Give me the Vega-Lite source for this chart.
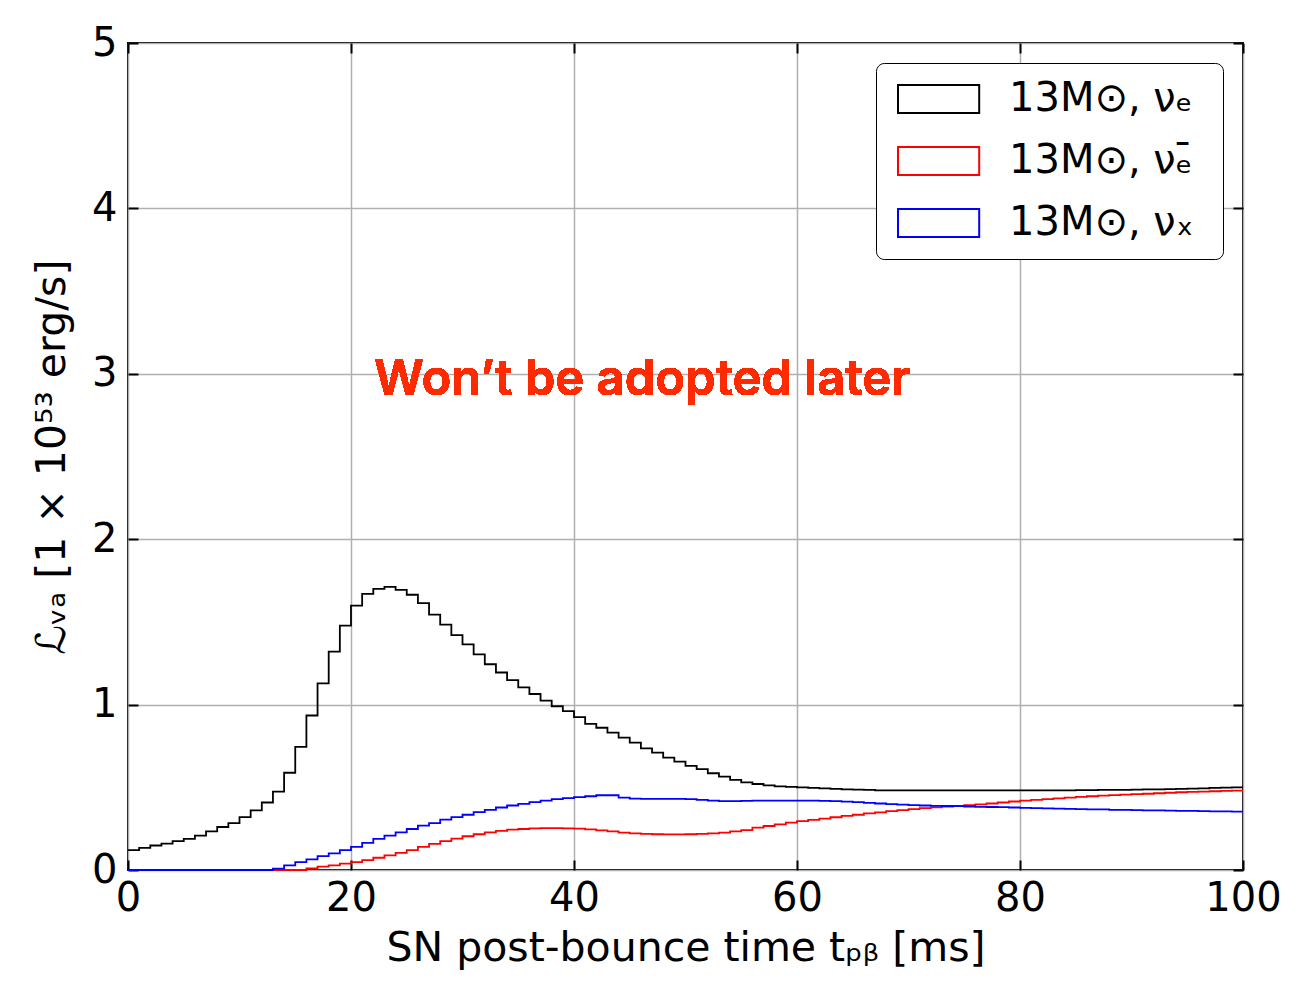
{
  "$schema": "https://vega.github.io/schema/vega-lite/v6.json",
  "autosize": {"type": "none"},
  "width": 1115,
  "height": 827,
  "padding": {"left": 128, "top": 43, "right": 60, "bottom": 124},
  "background": "white",
  "config": {
    "view": {"stroke": "black", "strokeWidth": 2},
    "axis": {
      "domain": false,
      "grid": true,
      "gridColor": "#b0b0b0",
      "gridWidth": 1.5,
      "ticks": true,
      "tickColor": "black",
      "tickWidth": 2,
      "tickSize": -10,
      "labelFont": "DejaVu Sans",
      "labelFontSize": 40,
      "labelColor": "black",
      "labelFlush": false,
      "labelOverlap": false,
      "titleFont": "DejaVu Sans",
      "titleFontSize": 41,
      "titleFontWeight": "normal",
      "titleColor": "black"
    },
    "legend": {
      "orient": "top-right",
      "offset": 20,
      "strokeColor": "black",
      "fillColor": "white",
      "cornerRadius": 8,
      "padding": 16,
      "symbolType": "M-1,-1H4.8V1H-1Z",
      "symbolSize": 784,
      "symbolStrokeWidth": 2,
      "symbolFillColor": "transparent",
      "labelFont": "DejaVu Sans",
      "labelFontSize": 40,
      "labelColor": "black",
      "labelOffset": 77,
      "rowPadding": 22,
      "labelLimit": 400
    }
  },
  "data": {
    "values": [
      {"t":0,"e":0.12,"eb":0,"x":0},{"t":1,"e":0.134,"eb":0,"x":0},{"t":2,"e":0.148,"eb":0,"x":0},{"t":3,"e":0.16,"eb":0,"x":0},{"t":4,"e":0.174,"eb":0,"x":0},
      {"t":5,"e":0.188,"eb":0,"x":0},{"t":6,"e":0.208,"eb":0,"x":0},{"t":7,"e":0.234,"eb":0,"x":0},{"t":8,"e":0.26,"eb":0,"x":0},{"t":9,"e":0.284,"eb":0,"x":0},
      {"t":10,"e":0.32,"eb":0,"x":0},{"t":11,"e":0.36,"eb":0,"x":0},{"t":12,"e":0.408,"eb":0,"x":0},{"t":13,"e":0.474,"eb":0,"x":0.008},{"t":14,"e":0.588,"eb":0,"x":0.028},
      {"t":15,"e":0.744,"eb":0,"x":0.048},{"t":16,"e":0.934,"eb":0.01,"x":0.064},{"t":17,"e":1.128,"eb":0.02,"x":0.084},{"t":18,"e":1.32,"eb":0.028,"x":0.1},{"t":19,"e":1.478,"eb":0.038,"x":0.12},
      {"t":20,"e":1.598,"eb":0.048,"x":0.14},{"t":21,"e":1.67,"eb":0.06,"x":0.164},{"t":22,"e":1.7,"eb":0.074,"x":0.188},{"t":23,"e":1.712,"eb":0.088,"x":0.208},{"t":24,"e":1.694,"eb":0.104,"x":0.228},
      {"t":25,"e":1.664,"eb":0.12,"x":0.248},{"t":26,"e":1.614,"eb":0.14,"x":0.268},{"t":27,"e":1.544,"eb":0.158,"x":0.284},{"t":28,"e":1.484,"eb":0.174,"x":0.304},{"t":29,"e":1.42,"eb":0.19,"x":0.32},
      {"t":30,"e":1.364,"eb":0.204,"x":0.334},{"t":31,"e":1.304,"eb":0.216,"x":0.35},{"t":32,"e":1.244,"eb":0.228,"x":0.364},{"t":33,"e":1.194,"eb":0.236,"x":0.378},{"t":34,"e":1.148,"eb":0.244,"x":0.39},
      {"t":35,"e":1.104,"eb":0.248,"x":0.4},{"t":36,"e":1.064,"eb":0.252,"x":0.41},{"t":37,"e":1.024,"eb":0.253,"x":0.42},{"t":38,"e":0.99,"eb":0.253,"x":0.428},{"t":39,"e":0.96,"eb":0.252,"x":0.434},
      {"t":40,"e":0.924,"eb":0.25,"x":0.44},{"t":41,"e":0.884,"eb":0.246,"x":0.446},{"t":42,"e":0.86,"eb":0.24,"x":0.452},{"t":43,"e":0.83,"eb":0.233,"x":0.452},{"t":44,"e":0.8,"eb":0.226,"x":0.437},
      {"t":45,"e":0.77,"eb":0.221,"x":0.432},{"t":46,"e":0.735,"eb":0.218,"x":0.43},{"t":47,"e":0.71,"eb":0.216,"x":0.43},{"t":48,"e":0.68,"eb":0.215,"x":0.43},{"t":49,"e":0.655,"eb":0.215,"x":0.43},
      {"t":50,"e":0.63,"eb":0.216,"x":0.428},{"t":51,"e":0.61,"eb":0.218,"x":0.424},{"t":52,"e":0.585,"eb":0.221,"x":0.419},{"t":53,"e":0.565,"eb":0.226,"x":0.417},{"t":54,"e":0.545,"eb":0.233,"x":0.417},
      {"t":55,"e":0.53,"eb":0.241,"x":0.418},{"t":56,"e":0.52,"eb":0.256,"x":0.419},{"t":57,"e":0.512,"eb":0.266,"x":0.42},{"t":58,"e":0.506,"eb":0.276,"x":0.42},{"t":59,"e":0.502,"eb":0.286,"x":0.42},
      {"t":60,"e":0.499,"eb":0.295,"x":0.42},{"t":61,"e":0.496,"eb":0.303,"x":0.419},{"t":62,"e":0.493,"eb":0.311,"x":0.418},{"t":63,"e":0.49,"eb":0.319,"x":0.416},{"t":64,"e":0.488,"eb":0.327,"x":0.413},
      {"t":65,"e":0.486,"eb":0.334,"x":0.41},{"t":66,"e":0.484,"eb":0.342,"x":0.406},{"t":67,"e":0.482,"eb":0.349,"x":0.402},{"t":68,"e":0.481,"eb":0.356,"x":0.398},{"t":69,"e":0.481,"eb":0.362,"x":0.395},
      {"t":70,"e":0.481,"eb":0.368,"x":0.392},{"t":71,"e":0.481,"eb":0.374,"x":0.39},{"t":72,"e":0.481,"eb":0.379,"x":0.388},{"t":73,"e":0.481,"eb":0.383,"x":0.387},{"t":74,"e":0.481,"eb":0.387,"x":0.386},
      {"t":75,"e":0.481,"eb":0.392,"x":0.384},{"t":76,"e":0.481,"eb":0.397,"x":0.382},{"t":77,"e":0.481,"eb":0.402,"x":0.381},{"t":78,"e":0.481,"eb":0.408,"x":0.38},{"t":79,"e":0.481,"eb":0.414,"x":0.378},
      {"t":80,"e":0.481,"eb":0.42,"x":0.376},{"t":81,"e":0.481,"eb":0.424,"x":0.374},{"t":82,"e":0.481,"eb":0.428,"x":0.373},{"t":83,"e":0.482,"eb":0.433,"x":0.371},{"t":84,"e":0.482,"eb":0.437,"x":0.37},
      {"t":85,"e":0.483,"eb":0.442,"x":0.368},{"t":86,"e":0.483,"eb":0.446,"x":0.367},{"t":87,"e":0.484,"eb":0.45,"x":0.366},{"t":88,"e":0.484,"eb":0.453,"x":0.364},{"t":89,"e":0.485,"eb":0.456,"x":0.363},
      {"t":90,"e":0.486,"eb":0.459,"x":0.362},{"t":91,"e":0.487,"eb":0.461,"x":0.361},{"t":92,"e":0.488,"eb":0.464,"x":0.36},{"t":93,"e":0.489,"eb":0.467,"x":0.359},{"t":94,"e":0.49,"eb":0.47,"x":0.358},
      {"t":95,"e":0.492,"eb":0.472,"x":0.357},{"t":96,"e":0.494,"eb":0.474,"x":0.356},{"t":97,"e":0.496,"eb":0.476,"x":0.355},{"t":98,"e":0.498,"eb":0.478,"x":0.354},{"t":99,"e":0.5,"eb":0.48,"x":0.353},
      {"t":100,"e":0.5,"eb":0.48,"x":0.353}
    ]
  },
  "layer": [
    {
      "transform": [{"fold": ["e", "eb", "x"], "as": ["species", "L"]}],
      "mark": {"type": "line", "interpolate": "step-after", "strokeWidth": 1.8, "clip": false},
      "encoding": {
        "x": {
          "field": "t", "type": "quantitative",
          "scale": {"domain": [0, 100], "nice": false, "zero": false},
          "axis": {"orient": "bottom", "values": [0, 20, 40, 60, 80, 100], "labelPadding": 18, "title": "SN post-bounce time tₚᵦ [ms]", "titlePadding": 10}
        },
        "y": {
          "field": "L", "type": "quantitative",
          "scale": {"domain": [0, 5], "nice": false},
          "axis": {"orient": "left", "values": [0, 1, 2, 3, 4, 5], "labelPadding": 21, "title": "ℒᵥₐ [1 × 10⁵³ erg/s]", "titlePadding": 18}
        },
        "color": {
          "field": "species", "type": "nominal",
          "scale": {"domain": ["e", "eb", "x"], "range": ["#000000", "#ff0000", "#0000ff"]},
          "legend": {
            "title": null,
            "labelExpr": "datum.value == 'e' ? '13M⊙,  νₑ' : datum.value == 'eb' ? '13M⊙,  νₑ̄' : '13M⊙,  νₓ'"
          }
        }
      }
    },
    {
      "mark": {"type": "text", "align": "left", "baseline": "alphabetic", "font": "Inter", "fontWeight": 600, "fontSize": 49, "color": "#ff2a00"},
      "encoding": {
        "x": {"datum": 22.06, "type": "quantitative", "axis": {"orient": "top", "values": [0, 20, 40, 60, 80, 100], "labels": false, "grid": false, "title": null}},
        "y": {"datum": 2.87, "type": "quantitative", "axis": {"orient": "right", "values": [0, 1, 2, 3, 4, 5], "labels": false, "grid": false, "title": null}},
        "text": {"value": "Won’t be adopted later"}
      }
    }
  ]
}
